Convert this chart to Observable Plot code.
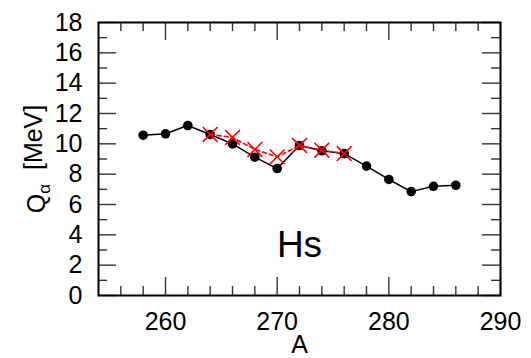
<!DOCTYPE html>
<html><head><meta charset="utf-8">
<script src="https://cdn.jsdelivr.net/npm/d3@7"></script>
<script src="https://cdn.jsdelivr.net/npm/@observablehq/plot@0.6"></script>
<style>body{margin:0;background:#fff} svg{display:block}</style>
</head><body><div id="chart"></div>
<script>
const massA = [258, 260, 262, 264, 266, 268, 270, 272, 274, 276, 278, 280, 282, 284, 286];
const qCalc = [10.57, 10.66, 11.21, 10.62, 10.0, 9.12, 8.37, 9.89, 9.54, 9.36, 8.53, 7.65, 6.85, 7.2, 7.27];
const massExp = [264, 266, 268, 270, 272, 274, 276];
const qExp = [10.62, 10.42, 9.63, 9.14, 9.89, 9.58, 9.36];
const xMajor = [260, 270, 280, 290];
const xMinor = [256, 258, 262, 264, 266, 268, 272, 274, 276, 278, 282, 284, 286, 288];
const yMajor = [0, 2, 4, 6, 8, 10, 12, 14, 16, 18];
const yMinor = [1, 3, 5, 7, 9, 11, 13, 15, 17];
const elementLabel = "Hs";
const xLabel = "A";
const yLabel = "Q\u03b1  [MeV]";

const calc = massA.map((a, i) => ({a, q: qCalc[i]}));
const exp = massExp.map((a, i) => ({a, q: qExp[i]}));

const W = 531, H = 358, mL = 98, mR = 31, mT = 22, mB = 63;
const fw = W - mL - mR, fh = H - mT - mB;
const major = 18, minor = 9;
const tk = {stroke: "#333", strokeWidth: 1.4};
const font = "Liberation Sans, Arial, Helvetica, sans-serif";

const chart = Plot.plot({
  width: W,
  height: H,
  marginLeft: mL,
  marginRight: mR,
  marginTop: mT,
  marginBottom: mB,
  style: {fontFamily: font, background: "#fff", color: "#000"},
  x: {domain: [254, 290], axis: null},
  y: {domain: [0, 18], axis: null},
  marks: [
    // inward ticks on all four sides
    Plot.ruleX(xMajor, {x: d => d, insetTop: fh - major, ...tk}),
    Plot.ruleX(xMinor, {x: d => d, insetTop: fh - minor, ...tk}),
    Plot.ruleX(xMajor, {x: d => d, insetBottom: fh - major, ...tk}),
    Plot.ruleX(xMinor, {x: d => d, insetBottom: fh - minor, ...tk}),
    Plot.ruleY(yMajor, {y: d => d, insetRight: fw - major, ...tk}),
    Plot.ruleY(yMinor, {y: d => d, insetRight: fw - minor, ...tk}),
    Plot.ruleY(yMajor, {y: d => d, insetLeft: fw - major, ...tk}),
    Plot.ruleY(yMinor, {y: d => d, insetLeft: fw - minor, ...tk}),
    // tick labels
    Plot.text(xMajor, {x: d => d, text: d => String(d), frameAnchor: "bottom", lineAnchor: "top", dy: 17, fontSize: 25, fill: "#000"}),
    Plot.text(yMajor, {y: d => d, text: d => String(d), frameAnchor: "left", textAnchor: "end", dx: -16, fontSize: 25, fill: "#000"}),
    Plot.frame({stroke: "#000", strokeWidth: 2}),
    // data
    Plot.line(calc, {x: "a", y: "q", stroke: "#000", strokeWidth: 1.5}),
    Plot.dot(calc, {x: "a", y: "q", r: 4.8, fill: "#000", stroke: null}),
    Plot.line(exp, {x: "a", y: "q", stroke: "#ff0000", strokeWidth: 1.6, strokeDasharray: "4,3"}),
    Plot.dot(exp, {x: "a", y: "q", symbol: "times", r: 6.8, stroke: "#ff0000", strokeWidth: 1.6}),
    // annotations
    Plot.text([elementLabel], {frameAnchor: "bottom", textAnchor: "middle", dy: -39, fontSize: 37, fill: "#000"}),
    Plot.text([xLabel], {frameAnchor: "bottom", textAnchor: "middle", dy: 57, fontSize: 25, fill: "#000"}),
    Plot.text([yLabel], {frameAnchor: "left", textAnchor: "middle", dx: -62, rotate: -90, fontSize: 25, fill: "#000"})
  ]
});
document.getElementById("chart").appendChild(chart);

// subscript alpha in the y label
d3.select(chart).selectAll("text").each(function() {
  if (this.textContent === yLabel) {
    const t = d3.select(this);
    t.text(null);
    t.append("tspan").text("Q");
    t.append("tspan").attr("dy", "0.3em").attr("font-size", "17").text("\u03b1");
    t.append("tspan").attr("dy", "-0.3em").text("\u00a0\u00a0[MeV]");
  }
});
</script>
</body></html>
